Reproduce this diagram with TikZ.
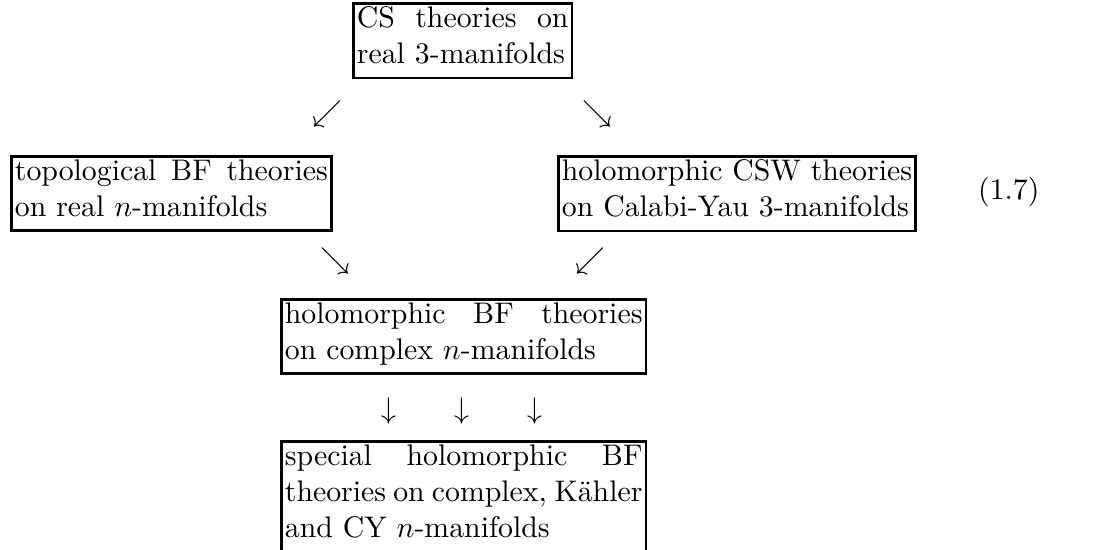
\documentclass[tikz,border=0pt]{standalone}
\begin{document}
\hyphenpenalty=10000
\exhyphenpenalty=10000
\begin{tikzpicture}[x=0.3356pt,y=-0.3356pt,
  thbox/.style={draw,line width=0.9pt,inner sep=1.2pt,align=justify,anchor=north west},
  sym/.style={inner sep=0pt}]
\useasboundingbox (0,0) rectangle (1100,550);
\node[thbox,text width=71pt] (cs) at (352,2) {CS theories on\linebreak real 3-manifolds\strut};
\node[thbox,text width=105pt] (tbf) at (10,155) {topological BF theories\linebreak on real $n$-manifolds\strut};
\node[thbox,text width=117.5pt] (csw) at (557,155) {holomorphic CSW theories\linebreak on Calabi-Yau 3-manifolds\strut};
\node[thbox,text width=120pt] (hbf) at (280,298) {holomorphic BF theories\linebreak on complex $n$-manifolds\strut};
\node[thbox,text width=120pt] (sbf) at (280,440) {special holomorphic BF\linebreak theories on complex, K\"ahler\linebreak and CY $n$-manifolds\rule[-9pt]{0pt}{9pt}};
\node[sym] (a1) at (327,114) {$\swarrow$};
\node[sym] (a2) at (597,114) {$\searrow$};
\node[sym] (a3) at (335,261) {$\searrow$};
\node[sym] (a4) at (590,261) {$\swarrow$};
\node[sym] (d1) at (389,411) {$\downarrow$};
\node[sym] (d2) at (462,411) {$\downarrow$};
\node[sym] (d3) at (535,411) {$\downarrow$};
\node[sym,anchor=east] (eq) at (1040,192) {(1.7)};
\end{tikzpicture}
\end{document}
